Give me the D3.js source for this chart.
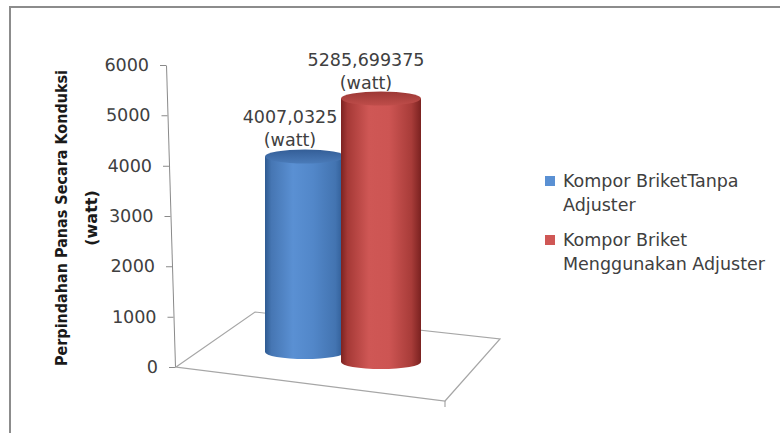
<!DOCTYPE html>
<html>
<head>
<meta charset="utf-8">
<script src="https://cdn.jsdelivr.net/npm/d3@7"></script>
<style>
  html, body { margin: 0; padding: 0; background: #ffffff; }
  svg { display: block; }
  text { font-family: "DejaVu Sans", sans-serif; }
</style>
</head>
<body>
<svg id="chart" width="780" height="433"></svg>
<script>
// Heat transfer by conduction (watt) for two briquette stoves
const seriesNames = ["Kompor BriketTanpa Adjuster", "Kompor Briket Menggunakan Adjuster"];
const legendLines = [["Kompor BriketTanpa", "Adjuster"], ["Kompor Briket", "Menggunakan Adjuster"]];
const seriesValues = [4007.0325, 5285.699375];
const valueTicks = [0, 1000, 2000, 3000, 4000, 5000, 6000];
const axisTitleLines = ["Perpindahan Panas Secara Konduksi", "(watt)"];
const unitLabel = "(watt)";

const bodyColors = [
  ["#2e5a91", "#4676b3", "#5a90d3", "#5287c9", "#4374b1", "#2c5890"],
  ["#7c2321", "#a53936", "#cf5755", "#cd5553", "#a83c39", "#7a2220"]
];
const capColors = [["#345e97", "#4a7bb9"], ["#9c3835", "#bf4d4a"]];
const textSize = "17.5px";

const svg = d3.select("#chart");
const defs = svg.append("defs");

// outer chart frame
svg.append("rect")
  .attr("x", 10).attr("y", 7).attr("width", 820).attr("height", 520)
  .attr("fill", "none").attr("stroke", "#8c8c8c").attr("stroke-width", 2);

// value axis (slightly slanted by the 3D perspective)
const y = d3.scaleLinear().domain([0, 6000]).range([367, 65]);
const slant = 9 / 302;
const axisX0 = 166 - 65 * slant;
const axisXAt = v => axisX0 + y(v) * slant;

const axisG = svg.append("g")
  .attr("transform", `translate(${axisX0},0) skewX(${Math.atan(slant) * 180 / Math.PI})`)
  .call(d3.axisLeft(y).tickValues(valueTicks).tickSize(6).tickSizeOuter(0).tickPadding(11)
    .tickFormat(d3.format("d")));
axisG.select(".domain").attr("stroke", "#8a8a8a");
axisG.selectAll(".tick line").attr("stroke", "#8a8a8a");
axisG.selectAll(".tick text")
  .attr("fill", "#404040").style("font-size", textSize)
  .style("font-family", "'DejaVu Sans', sans-serif");

// axis title
const titleG = svg.append("g").attr("transform", "translate(0,218) rotate(-90)");
titleG.append("text")
  .attr("x", 0).attr("y", 61).attr("text-anchor", "middle").attr("dominant-baseline", "central")
  .attr("textLength", 296).attr("lengthAdjust", "spacingAndGlyphs")
  .style("font-size", "16px").style("font-weight", "bold").attr("fill", "#1a1a1a")
  .text(axisTitleLines[0]);
titleG.append("text")
  .attr("x", 0).attr("y", 91).attr("text-anchor", "middle").attr("dominant-baseline", "central")
  .style("font-size", "16px").style("font-weight", "bold").attr("fill", "#1a1a1a")
  .text(axisTitleLines[1]);

// floor of the 3D plot area
const fl = [axisXAt(0) + 1, y(0)];
const floorPts = [fl, [fl[0] + 79, fl[1] - 55], [fl[0] + 324, fl[1] - 28], [fl[0] + 269, fl[1] + 34]];
svg.append("path")
  .attr("d", d3.line()(floorPts) + "Z")
  .attr("fill", "none").attr("stroke", "#a6a6a6").attr("stroke-width", 1.2);
svg.append("line")
  .attr("x1", floorPts[3][0]).attr("y1", floorPts[3][1])
  .attr("x2", floorPts[3][0]).attr("y2", floorPts[3][1] + 6)
  .attr("stroke", "#a6a6a6").attr("stroke-width", 1.2);

// cylinders: horizontal position by series, vertical scale per depth row
const x = d3.scalePoint().domain(seriesNames).range([305, 381]);
const depth = [{ base: 352, unit: 0.0488 }, { base: 362, unit: 0.04985 }];
const rx = 40, ry = 7;

seriesNames.forEach((name, i) => {
  const v = d3.scaleLinear().domain([0, 6000])
    .range([depth[i].base, depth[i].base - 6000 * depth[i].unit]);
  const cx = x(name);
  const top = v(seriesValues[i]);
  const base = v(0);

  const gid = "body" + i;
  const lg = defs.append("linearGradient").attr("id", gid).attr("x1", "0").attr("x2", "1").attr("y1", "0").attr("y2", "0");
  [0, 0.08, 0.35, 0.6, 0.88, 1].forEach((o, k) =>
    lg.append("stop").attr("offset", o).attr("stop-color", bodyColors[i][k]));
  const cid = "cap" + i;
  const cg = defs.append("linearGradient").attr("id", cid).attr("x1", "0").attr("x2", "0").attr("y1", "0").attr("y2", "1");
  cg.append("stop").attr("offset", 0).attr("stop-color", capColors[i][0]);
  cg.append("stop").attr("offset", 1).attr("stop-color", capColors[i][1]);

  svg.append("path")
    .attr("d", `M${cx - rx},${top} L${cx - rx},${base} A${rx},${ry} 0 0 0 ${cx + rx},${base} L${cx + rx},${top} Z`)
    .attr("fill", `url(#${gid})`);
  svg.append("ellipse")
    .attr("cx", cx).attr("cy", top).attr("rx", rx).attr("ry", ry)
    .attr("fill", `url(#${cid})`);

  const label = svg.append("g").attr("fill", "#404040").style("font-size", textSize)
    .attr("text-anchor", "middle");
  label.append("text").attr("x", cx - 15).attr("y", top - 39).attr("dominant-baseline", "central")
    .text(String(seriesValues[i]).replace(".", ","));
  label.append("text").attr("x", cx - 15).attr("y", top - 16).attr("dominant-baseline", "central")
    .text(unitLabel);
});

// legend
const legendTop = [181, 240];
seriesNames.forEach((name, i) => {
  const g = svg.append("g").attr("transform", `translate(545,${legendTop[i]})`);
  g.append("rect").attr("x", 0).attr("y", -5).attr("width", 10).attr("height", 10)
    .attr("fill", bodyColors[i][2]);
  legendLines[i].forEach((line, k) =>
    g.append("text").attr("x", 18).attr("y", k * 24).attr("dominant-baseline", "central")
      .attr("fill", "#404040").style("font-size", textSize).text(line));
});
</script>
</body>
</html>
